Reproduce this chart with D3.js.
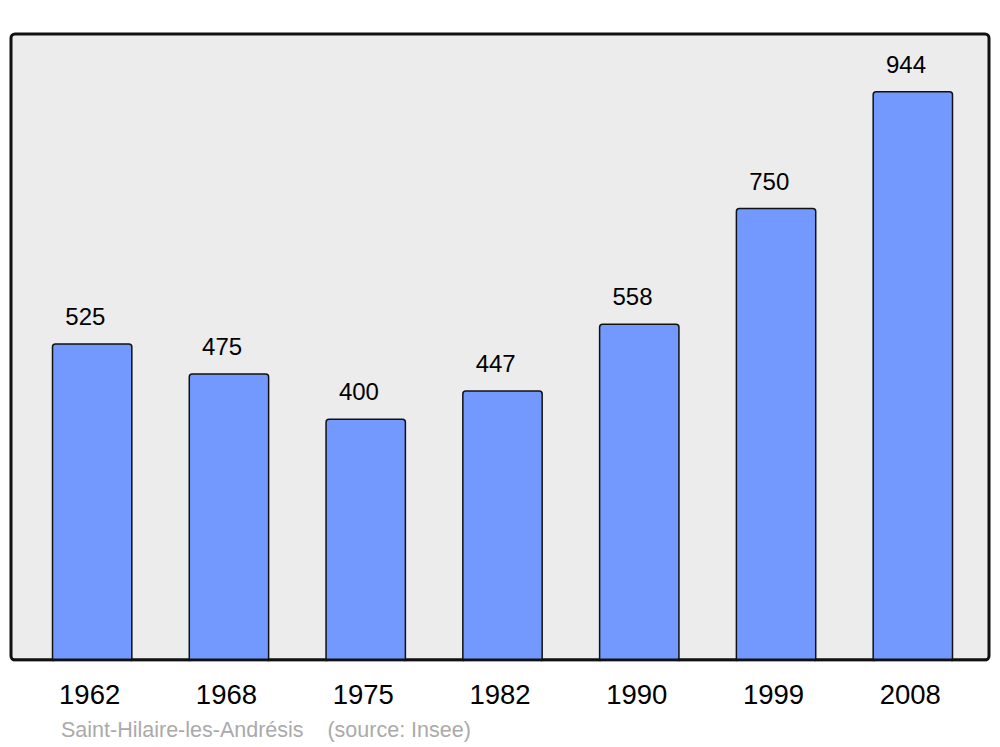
<!DOCTYPE html>
<html><head><meta charset="utf-8">
<script src="https://cdn.jsdelivr.net/npm/d3@7"></script>
<style>body{margin:0;background:#fff}svg{display:block}</style>
</head><body>
<script>
const years = ["1962","1968","1975","1982","1990","1999","2008"];
const population = [525,475,400,447,558,750,944];
const footer = "Saint-Hilaire-les-Andrésis    (source: Insee)";

const W = 1000, H = 747;
const svg = d3.select("body").append("svg").attr("width", W).attr("height", H)
  .style("font-family", "'Liberation Sans', Arial, sans-serif");

const panel = {x0: 11, x1: 989, y0: 34, y1: 660};
svg.append("rect").attr("x", panel.x0).attr("y", panel.y0)
  .attr("width", panel.x1 - panel.x0).attr("height", panel.y1 - panel.y0)
  .attr("rx", 4).attr("fill", "#ececec").attr("stroke", "#111").attr("stroke-width", 3);

const x = d3.scaleBand().domain(years).range([52.5, 952.5]).paddingInner(0.42).paddingOuter(0);
const y = d3.scaleLinear().domain([0, 1040]).range([panel.y1, panel.y0]);

const data = years.map((yr, i) => ({yr, v: population[i]}));

svg.selectAll("rect.bar").data(data).enter().append("rect").attr("class", "bar")
  .attr("x", d => x(d.yr)).attr("y", d => y(d.v))
  .attr("width", x.bandwidth()).attr("height", d => y(0) - y(d.v) + 3)
  .attr("rx", 3).attr("fill", "#7399ff").attr("stroke", "#111").attr("stroke-width", 1.5);

svg.append("line").attr("x1", panel.x0 + 2).attr("x2", panel.x1 - 2)
  .attr("y1", panel.y1).attr("y2", panel.y1).attr("stroke", "#111").attr("stroke-width", 3);
svg.append("rect").attr("x", 0).attr("y", panel.y1 + 1.5).attr("width", W).attr("height", 6).attr("fill", "#fff");

svg.selectAll("text.val").data(data).enter().append("text").attr("class", "val")
  .attr("x", d => x(d.yr) + x.bandwidth() / 2 - 6.8).attr("y", d => y(d.v) - 19)
  .attr("text-anchor", "middle").attr("font-size", 24).attr("fill", "#000")
  .text(d => d.v);

svg.selectAll("text.yr").data(data).enter().append("text").attr("class", "yr")
  .attr("x", d => x(d.yr) + x.bandwidth() / 2 - 2.5).attr("y", 704)
  .attr("text-anchor", "middle").attr("font-size", 27.5).attr("fill", "#000")
  .text(d => d.yr);

svg.append("text").attr("x", 61).attr("y", 737).attr("font-size", 21.5)
  .attr("fill", "#aaaaaa").attr("xml:space", "preserve").style("white-space", "pre")
  .text(footer);
</script>
</body></html>
